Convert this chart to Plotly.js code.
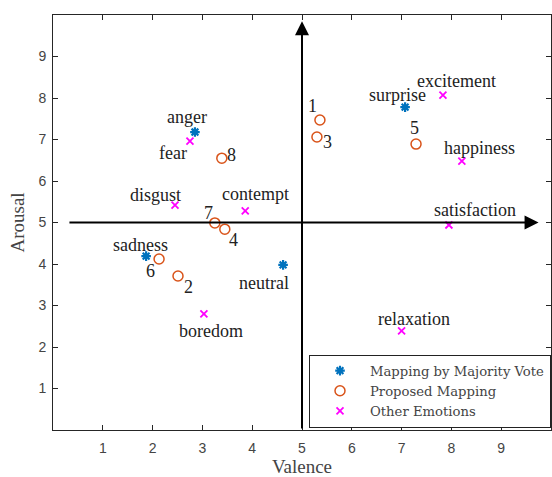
<!DOCTYPE html>
<html><head><meta charset="utf-8">
<script src="https://cdn.plot.ly/plotly-3.0.1.min.js"></script>
<style>html,body{margin:0;padding:0;background:#fff}#plot{width:552px;height:477px}</style>
</head><body><div id="plot"></div>
<script>
// Mapping by Majority Vote
const majorityLabels = ["anger", "surprise", "sadness", "neutral"];
const majorityValence = [2.85, 7.07, 1.87, 4.62];
const majorityArousal = [7.18, 7.78, 4.19, 3.98];

// Proposed Mapping
const proposedLabels = ["1", "2", "3", "4", "5", "6", "7", "8"];
const proposedValence = [5.36, 2.51, 5.30, 3.45, 7.29, 2.13, 3.25, 3.39];
const proposedArousal = [7.47, 3.71, 7.06, 4.84, 6.89, 4.12, 4.99, 6.55];

// Other Emotions
const otherLabels = ["excitement", "happiness", "satisfaction", "relaxation", "fear", "disgust", "contempt", "boredom"];
const otherValence = [7.83, 8.21, 7.95, 7.00, 2.75, 2.45, 3.86, 3.03];
const otherArousal = [8.07, 6.48, 4.94, 2.39, 6.96, 5.42, 5.28, 2.80];

const xTicks = [1, 2, 3, 4, 5, 6, 7, 8, 9];
const yTicks = [1, 2, 3, 4, 5, 6, 7, 8, 9];

// label pixel offsets (style)
const majorityShift = [[-8, 15], [-8, 12], [-6, 11], [-19, -18]];
const proposedShift = [[-7, 14], [10, -11], [11, -5], [9, -11], [-2, 16], [-9, -12], [-6, 10], [10, 3]];
const otherShift = [[14, 14], [18, 13], [26, 15], [12, 12], [-17, -12], [-20, 10], [10, 17], [7, -17]];

const serif = "Liberation Serif, Times New Roman, serif";

const traces = [
  {x: majorityValence, y: majorityArousal, mode: "markers", type: "scatter",
   name: "Mapping by Majority Vote",
   marker: {symbol: "asterisk-open", size: 8, color: "#0072BD", line: {color: "#0072BD", width: 2.2}}},
  {x: proposedValence, y: proposedArousal, mode: "markers", type: "scatter",
   name: "Proposed Mapping",
   marker: {symbol: "circle-open", size: 10, color: "#D95319", line: {color: "#D95319", width: 1.5}}},
  {x: otherValence, y: otherArousal, mode: "markers", type: "scatter",
   name: "Other Emotions",
   marker: {symbol: "x-thin-open", size: 7, color: "#FF00FF", line: {color: "#FF00FF", width: 1.8}}}
];

const annotations = [];
function addLabels(labels, xs, ys, shifts) {
  labels.forEach((t, i) => {
    annotations.push({x: xs[i], y: ys[i], xref: "x", yref: "y", text: t, showarrow: false,
      xshift: shifts[i][0], yshift: shifts[i][1],
      font: {family: serif, size: 18, color: "#222"}});
  });
}
addLabels(majorityLabels, majorityValence, majorityArousal, majorityShift);
addLabels(proposedLabels, proposedValence, proposedArousal, proposedShift);
addLabels(otherLabels, otherValence, otherArousal, otherShift);

// quadrant arrows
annotations.push({x: 5, y: 9.85, ax: 5, ay: 0, xref: "x", yref: "y", axref: "x", ayref: "y",
  showarrow: true, arrowhead: 2, arrowsize: 1.4, arrowwidth: 2, arrowcolor: "#000", text: ""});
annotations.push({x: 9.75, y: 5, ax: 0.3, ay: 5, xref: "x", yref: "y", axref: "x", ayref: "y",
  showarrow: true, arrowhead: 2, arrowsize: 1.4, arrowwidth: 2, arrowcolor: "#000", text: ""});

const axisCommon = {
  range: [0, 10], showgrid: false, zeroline: false, showline: true, linecolor: "#262626", linewidth: 1,
  mirror: "ticks", ticks: "inside", ticklen: 5, tickcolor: "#262626",
  tickfont: {family: "Liberation Sans, Arial, sans-serif", size: 14, color: "#444"}
};

const layout = {
  width: 552, height: 477,
  margin: {l: 53, r: 1, t: 15, b: 47},
  paper_bgcolor: "#fff", plot_bgcolor: "#fff",
  showlegend: true,
  xaxis: Object.assign({}, axisCommon, {tickvals: xTicks, ticklabelstandoff: 5,
    title: {text: "Valence", font: {family: serif, size: 19, color: "#444"}, standoff: 4}}),
  yaxis: Object.assign({}, axisCommon, {tickvals: yTicks, ticklabelstandoff: 3,
    title: {text: "Arousal", font: {family: serif, size: 19, color: "#444"}, standoff: 8}}),
  legend: {x: 1, y: 0.006, xanchor: "right", yanchor: "bottom",
    bgcolor: "#fff", bordercolor: "#222", borderwidth: 1,
    font: {family: "DejaVu Serif, serif", size: 13.2, color: "#444"}, tracegroupgap: 0, itemwidth: 50},
  annotations: annotations
};

Plotly.newPlot("plot", traces, layout, {displayModeBar: false, staticPlot: true});
</script></body></html>
